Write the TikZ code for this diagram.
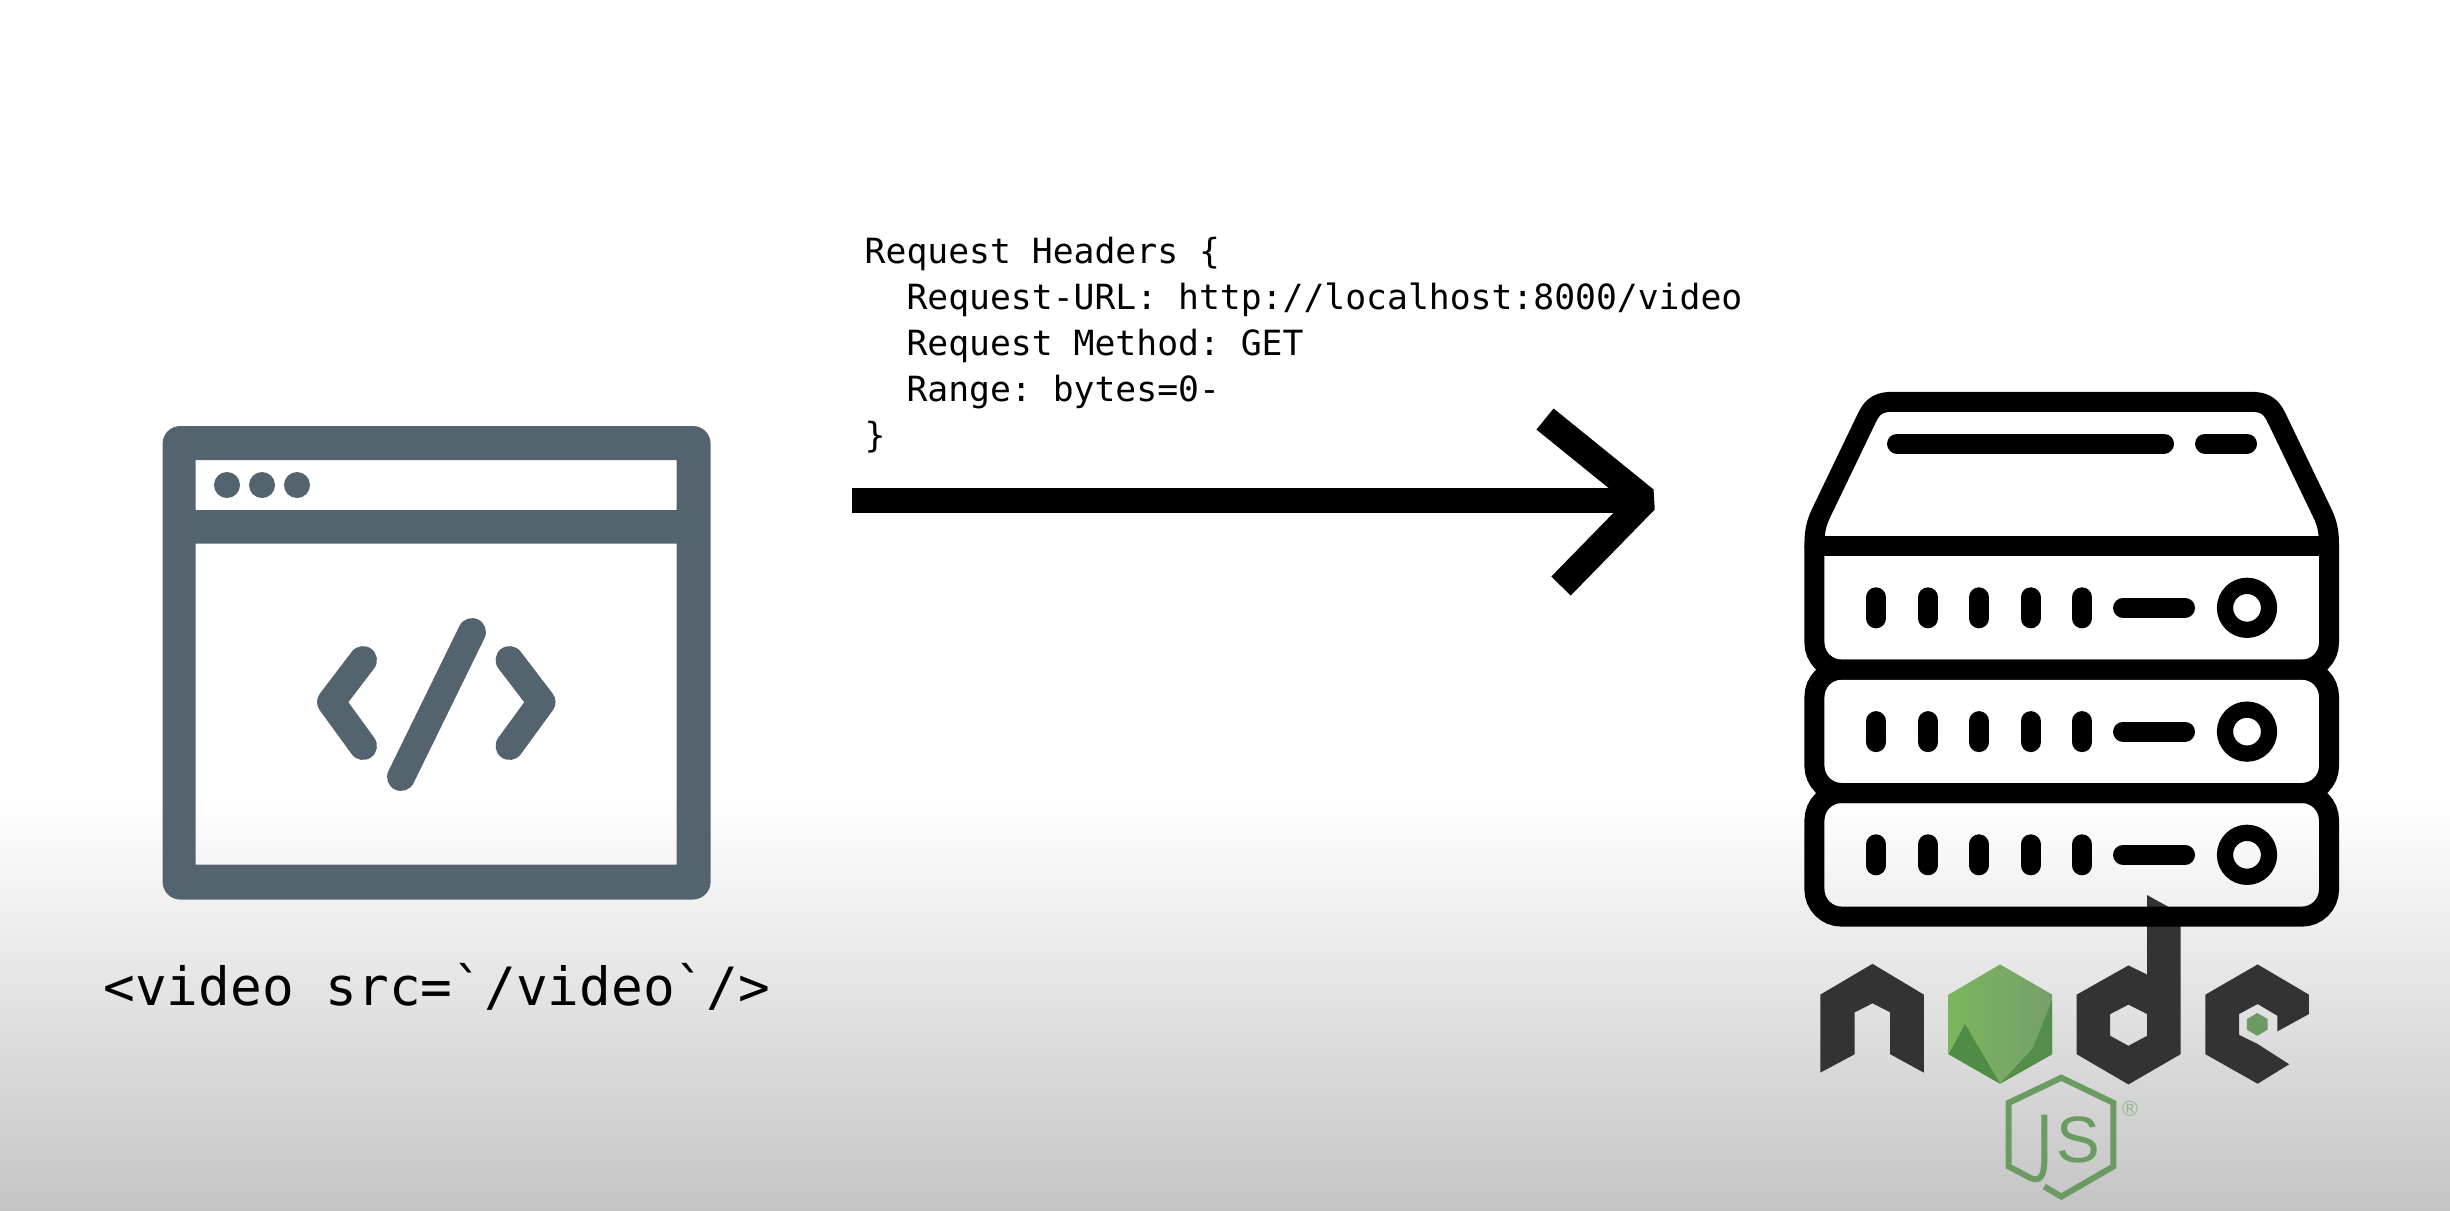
\documentclass[tikz,border=0pt]{standalone}
\usepackage{fontspec}
\newfontfamily\tagfont{DejaVu Sans Mono}
\newfontfamily\logofont{Liberation Sans}
\newfontfamily\markfont{DejaVu Sans}
\definecolor{slate}{HTML}{53646E}
\definecolor{nodedark}{HTML}{333333}
\definecolor{nodegreen}{HTML}{6B9A62}
\definecolor{hexdark}{HTML}{4F8C46}
\definecolor{hexlight}{HTML}{7BB65C}
\definecolor{hexmid}{HTML}{769F6C}

\begin{document}
\begin{tikzpicture}[x=0.2835pt,y=-0.2835pt,
winline/.style={slate,line width=7.9pt,line cap=round,line join=round},
srvline/.style={black,line width=5.67pt,line cap=round},
reqline/.style={black,line width=7.09pt},
jsline/.style={nodegreen,line width=1.7pt,line join=miter},
]
\useasboundingbox (0,0) rectangle (2450,1210);
\fill[white] (0,0) rectangle (2450,810);
\shade[top color=white,bottom color=black!23] (0,800) rectangle (2450,1210);

% browser window
\fill[slate,rounded corners=5pt,even odd rule] (162.6,426) rectangle (710.6,899.5)
	[sharp corners] (195.6,460) rectangle (676.6,510)
	(195.6,543.6) rectangle (676.6,864.7);
\foreach \x in {227,262,297}
	\fill[slate] (\x,485) circle[radius=13];
\draw[winline] (363,660) -- (331,702) -- (363,746);
\draw[winline] (472,632) -- (401,777);
\draw[winline] (509.5,660) -- (541.6,702) -- (509.5,746);
\node (tag) [font=\tagfont\fontsize{14.95}{17}\selectfont,inner sep=0pt,anchor=base] at (436.7,1005) {<video src=`/video`/>};

% request
\node (req) [font=\tagfont\fontsize{9.84}{13.04}\selectfont\frenchspacing,align=left,inner sep=0pt,anchor=north west] at (864,236)
	{Request Headers \{\\
	\ \ Request-URL: http://localhost:8000/video\\
	\ \ Request Method: GET\\
	\ \ Range: bytes=0-\\
	\}};
\coordinate (reqstart) at (851.6,500);
\coordinate (reqend) at (1645,500);
\coordinate (headtop) at (1545,419);
\coordinate (headbot) at (1561,586);
\draw[reqline] (reqstart) -- (reqend);
\draw[reqline,line width=7.7pt,line join=bevel] (headtop) -- (reqend) -- (headbot);

% node logo
\fill[nodedark] (1820.3,994.6) -- (1872.5,963.8) -- (1923.8,994.6) -- (1923.8,1072.6) -- (1890.2,1054.2)
	-- (1890.2,1012.3) -- (1872.5,1003.3) -- (1854.7,1012.3) -- (1854.7,1054.2) -- (1820.3,1072.6) -- cycle;
\shade[left color=hexlight,right color=hexmid] (2000,964.4) -- (2052.2,994.6) -- (2052.2,1054.2)
	-- (2000,1083.7) -- (1948.7,1054.2) -- (1948.7,994.6) -- cycle;
\fill[hexdark] (1948.7,1054.2) -- (1965,1024) -- (2000,1083.7) -- cycle;
\fill[hexdark!85!nodegreen] (2052.2,1000) -- (2033,1048) -- (2000,1083.7) -- (2052.2,1054.2) -- cycle;
\fill[nodedark,even odd rule] (2147,895) -- (2180.5,913.5) -- (2180.5,1054.2) -- (2128.4,1084.4) -- (2076.7,1054.2)
	-- (2076.7,994.6) -- (2128.4,965.4) -- (2147,974.5) -- cycle
	(2128.4,1004.6) -- (2147,1014) -- (2147,1035.8) -- (2128.4,1045.8) -- (2110.2,1035.8) -- (2110.2,1014) -- cycle;
\fill[nodedark] (2257.6,964.4) -- (2308.9,994.6) -- (2308.9,1014) -- (2277.3,1031.4) -- (2277.3,1015.7) -- (2257.6,1004)
	-- (2239,1014) -- (2239,1034.8) -- (2257.6,1044) -- (2289.2,1064.2) -- (2257.6,1083.7) -- (2205.4,1054.2) -- (2205.4,994.6) -- cycle;
\fill[nodegreen] (2257.2,1013) -- (2267.5,1019) -- (2267.5,1029.7) -- (2257.2,1035.8) -- (2246.9,1029.7) -- (2246.9,1019) -- cycle;
\draw[jsline] (2044.3,1186.5) -- (2061.3,1196.6) -- (2113.4,1166.4) -- (2113.4,1102.8) -- (2061.3,1077.7) -- (2008.7,1102.8)
	-- (2008.7,1166.4) -- (2030.5,1178) .. controls (2040,1182) and (2044.3,1176) .. (2044.3,1160) -- (2044.3,1114.5);
\node (jsletter) [font=\logofont\fontsize{18.6}{20}\selectfont,text=nodegreen,inner sep=0pt] at (2078,1139.6) {S};
\node (jsmark) [font=\markfont\fontsize{6}{7}\selectfont,text=nodegreen!70!white,inner sep=0pt] at (2130,1109) {®};

% server
\draw[srvline,line join=round] (1814.4,546) .. controls (1814.4,528) and (1817,521) .. (1824,507)
	-- (1867,417.5) .. controls (1873,405) and (1880,401.8) .. (1893,401.8) -- (2250.4,401.8)
	.. controls (2263.4,401.8) and (2270.4,405) .. (2276.4,417.5) -- (2319.4,507)
	.. controls (2326.4,521) and (2329,528) .. (2329,546);
\draw[srvline,line cap=butt] (1814.4,546) -- (2329,546);
\draw[srvline,line cap=butt,rounded corners=7.7pt] (1814.4,546) -- (1814.4,669.6) -- (2329,669.6) -- (2329,546);
\draw[srvline,rounded corners=7.7pt] (1814.4,669.6) rectangle (2329,793);
\draw[srvline,rounded corners=7.7pt] (1814.4,793) rectangle (2329,916.6);
\draw[srvline] (1897,443.5) -- (2164,443.5);
\draw[srvline] (2205,443.5) -- (2247,443.5);
\foreach \y in {607.8,731.6,854.8} {
	\foreach \x in {1876,1928,1979,2030.5,2082}
		\draw[srvline] (\x,\y-10.5) -- (\x,\y+10.5);
	\draw[srvline] (2123,\y) -- (2185,\y);
	\draw[black,line width=4.6pt] (2247,\y) circle[radius=22];
}
\end{tikzpicture}
\end{document}
